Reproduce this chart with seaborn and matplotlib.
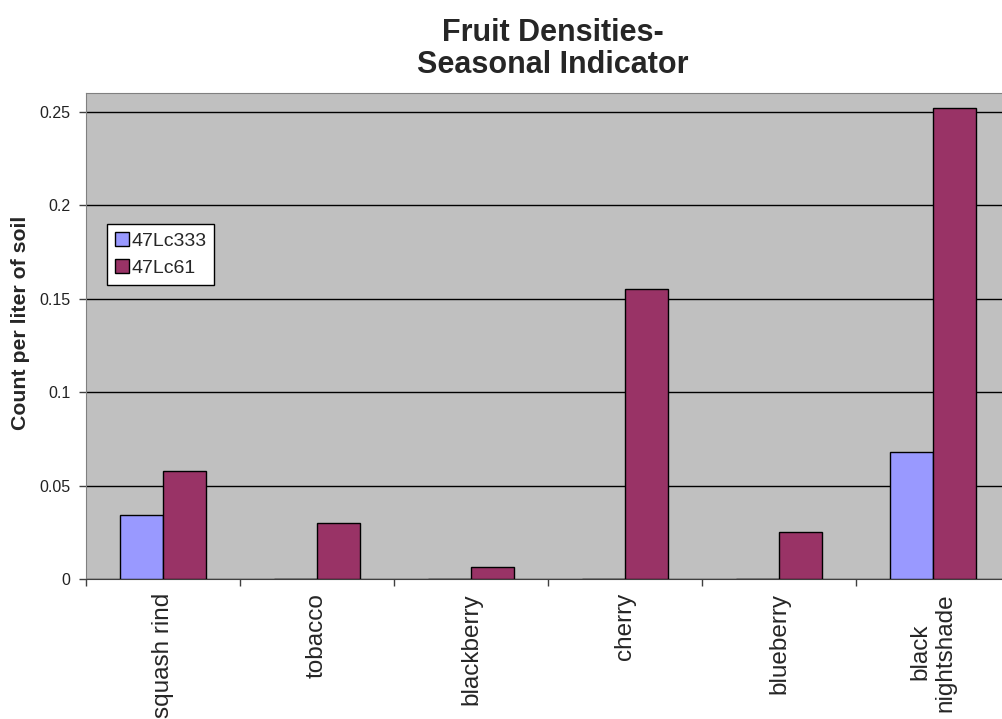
# Fruit densities - seasonal indicator (Excel style bar chart)
import pandas as pd
import seaborn as sns
import matplotlib.pyplot as plt

# ------------- Datos -------------
categorias = ["squash rind", "tobacco", "blackberry", "cherry", "blueberry", "black\nnightshade"]
series = ["47Lc333", "47Lc61"]
val_333 = [0.034, 0.0, 0.0, 0.0, 0.0, 0.068]
val_61 = [0.058, 0.030, 0.0065, 0.155, 0.025, 0.252]
ticks_y = [0, 0.05, 0.1, 0.15, 0.2, 0.25]
etiquetas_y = ["0", "0.05", "0.1", "0.15", "0.2", "0.25"]

df = pd.DataFrame({
    "categoria": categorias * 2,
    "serie": [series[0]] * len(categorias) + [series[1]] * len(categorias),
    "valor": val_333 + val_61,
})

sns.set_style("white")
plt.rcParams["font.family"] = ["Liberation Sans", "DejaVu Sans"]

fig = plt.figure(figsize=(10.02, 7.19), dpi=100)
ax = fig.add_axes([86 / 1002, 1 - 579 / 719, 924 / 1002, 486 / 719])
ax.set_facecolor("#C0C0C0")

sns.barplot(data=df, x="categoria", y="valor", hue="serie", order=categorias,
            hue_order=series, palette=["#9999FF", "#993366"], width=0.56,
            edgecolor="black", linewidth=1, saturation=1, ax=ax, zorder=3)

# Ejes y cuadricula
ax.set_ylim(0, 0.2602)
ax.set_xlim(-0.5, len(categorias) - 0.5)
ax.set_yticks(ticks_y)
ax.set_yticklabels(etiquetas_y, fontsize=11.5, color="#222222")
ax.yaxis.grid(True, color="black", linewidth=1, zorder=0)
ax.set_axisbelow(True)
ax.tick_params(axis="y", left=True, length=5, width=1, color="#404040", pad=6)

ax.set_xticks(range(len(categorias)))
ax.set_xticklabels(categorias, rotation=90, fontsize=17.5, va="top", ha="center",
                   multialignment="center")
ax.set_xticks([i - 0.5 for i in range(len(categorias))], minor=True)
ax.tick_params(axis="x", which="major", length=0, pad=10)
ax.tick_params(axis="x", which="minor", bottom=True, length=5, width=1, color="#404040")

for lado in ["top", "left"]:
    ax.spines[lado].set_color("#808080")
ax.spines["bottom"].set_color("#404040")
ax.spines["right"].set_visible(False)

ax.set_xlabel("")
ax.set_ylabel("Count per liter of soil", fontsize=15.3, fontweight="bold")
ax.yaxis.set_label_coords(-0.061, 0.527)

fig.text(553 / 1002, 1 - 49 / 719, "Fruit Densities-\nSeasonal Indicator",
         ha="center", va="center", fontsize=22, fontweight="bold", linespacing=1.12)

# Leyenda
leg = ax.legend(loc="upper left", bbox_to_anchor=(0.023, 0.73), fontsize=14,
                frameon=True, fancybox=False, edgecolor="black", framealpha=1,
                handlelength=0.7, handleheight=0.7, handletextpad=0.15,
                borderpad=0.4, labelspacing=0.5, borderaxespad=0)
leg.get_frame().set_linewidth(1)

fig.savefig("out.png", dpi=100)
